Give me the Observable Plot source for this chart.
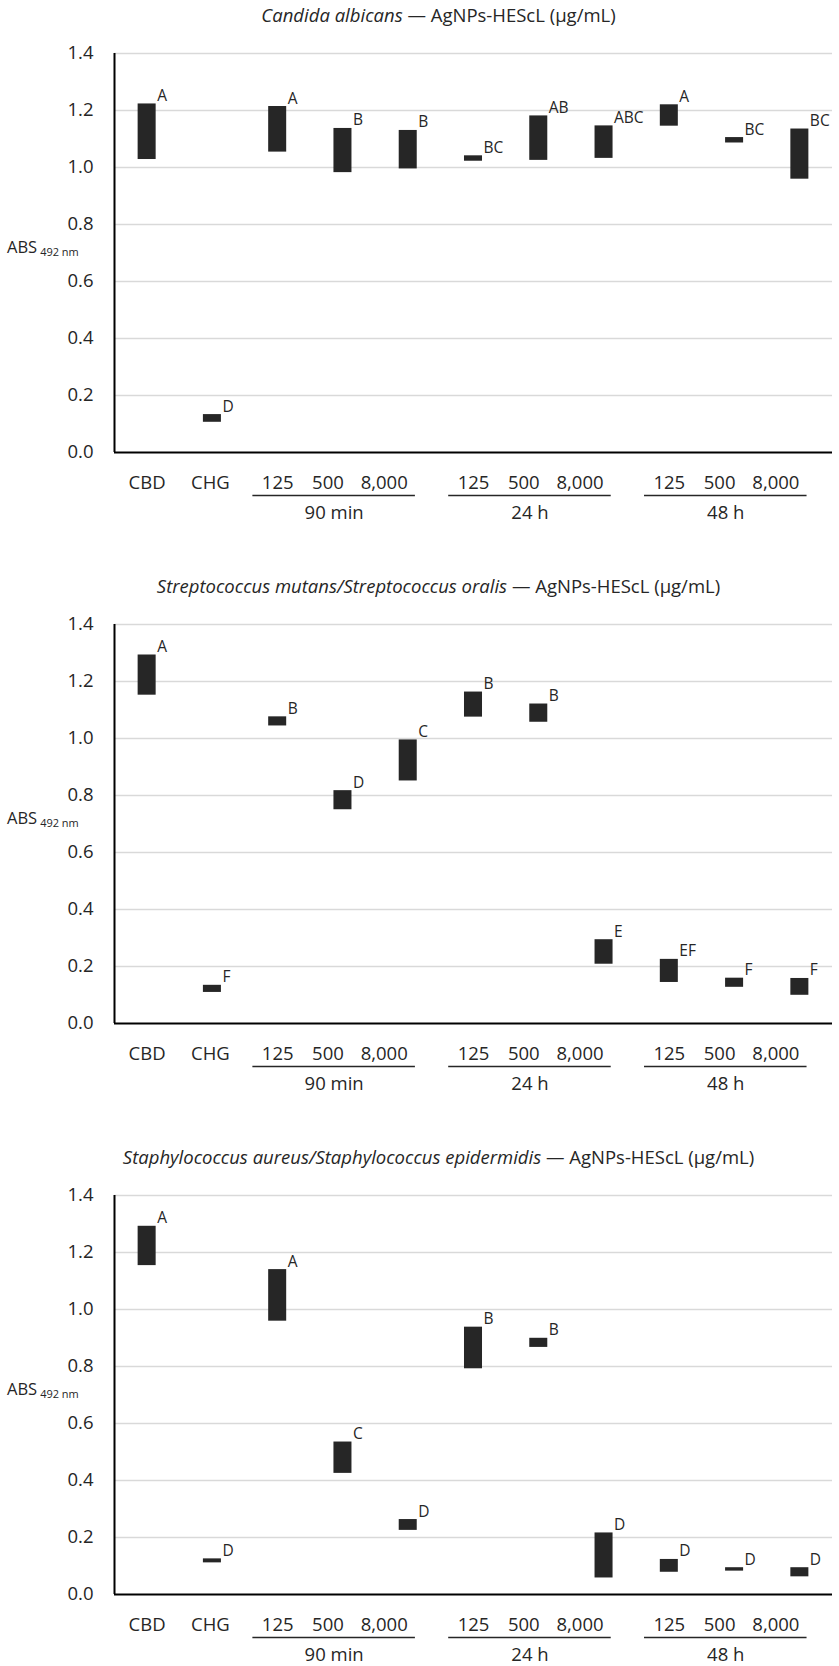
<!DOCTYPE html>
<html>
<head>
<meta charset="utf-8">
<script src="https://cdn.jsdelivr.net/npm/d3@7"></script>
<script src="https://cdn.jsdelivr.net/npm/@observablehq/plot@0.6"></script>
<style>
  body { margin: 0; background: #fff; font-family: "Open Sans", sans-serif; }
  .panel { width: 839px; height: 571px; position: relative; }
  .title { height: 30px; line-height: 30px; font-size: 18.5px; text-align: center;
           padding-left: 38px; color: #262626; white-space: nowrap; }
  .panel svg { display: block; overflow: visible; }
</style>
</head>
<body>
<div id="root"></div>
<script>
// ---- data ----
const categories = ["CBD", "CHG", "125", "500", "8,000", "125", "500", "8,000", "125", "500", "8,000"];
const times = ["", "", "90 min", "90 min", "90 min", "24 h", "24 h", "24 h", "48 h", "48 h", "48 h"];
const groups = ["90 min", "24 h", "48 h"];
const yTicks = [0, 0.2, 0.4, 0.6, 0.8, 1.0, 1.2, 1.4];

const organisms = [
  "Candida albicans",
  "Streptococcus mutans/Streptococcus oralis",
  "Staphylococcus aureus/Staphylococcus epidermidis"
];
const titleSuffix = " — AgNPs-HEScL (µg/mL)";

const candidaLow     = [1.028, 0.106, 1.054, 0.982, 0.995, 1.022, 1.025, 1.032, 1.145, 1.086, 0.959];
const candidaHigh    = [1.223, 0.133, 1.214, 1.137, 1.130, 1.041, 1.181, 1.146, 1.220, 1.105, 1.135];
const candidaLetters = ["A", "D", "A", "B", "B", "BC", "AB", "ABC", "A", "BC", "BC"];

const streptoLow     = [1.152, 0.109, 1.044, 0.750, 0.851, 1.075, 1.057, 0.208, 0.144, 0.127, 0.099];
const streptoHigh    = [1.293, 0.134, 1.076, 0.817, 0.995, 1.163, 1.121, 0.294, 0.225, 0.159, 0.158];
const streptoLetters = ["A", "F", "B", "D", "C", "B", "B", "E", "EF", "F", "F"];

const staphLow       = [1.154, 0.111, 0.959, 0.425, 0.225, 0.792, 0.867, 0.058, 0.078, 0.082, 0.062];
const staphHigh      = [1.292, 0.125, 1.140, 0.535, 0.263, 0.938, 0.899, 0.216, 0.123, 0.094, 0.094];
const staphLetters   = ["A", "D", "A", "C", "D", "B", "B", "D", "D", "D", "D"];

// ---- styles ----
const ink = "#262626";
const barHalf = 0.138;          // half bar width in category units
const labelShift = {"CBD": 0, "CHG": -2, "125": 0, "500": -15, "8,000": -24};

function panel(organism, low, high, letters) {
  const data = categories.map((c, i) => ({i, cat: c, time: times[i], lo: low[i], hi: high[i], letter: letters[i]}));
  const spans = groups.map(g => {
    const idx = data.filter(d => d.time === g).map(d => d.i);
    return {group: g, first: d3.min(idx), last: d3.max(idx)};
  });

  const div = document.createElement("div");
  div.className = "panel";
  const t = document.createElement("div");
  t.className = "title";
  const em = document.createElement("i");
  em.textContent = organism;
  t.appendChild(em);
  t.appendChild(document.createTextNode(titleSuffix));
  div.appendChild(t);

  const chart = Plot.plot({
    width: 839,
    height: 522,
    marginLeft: 114,
    marginRight: 7,
    marginTop: 23,
    marginBottom: 100,
    style: {fontFamily: "Open Sans, sans-serif", fontSize: "18.5px", color: ink, background: "#fff", overflow: "visible"},
    x: {domain: [-0.5, 10.5], axis: null},
    y: {domain: [0, 1.4], axis: null},
    marks: [
      Plot.gridY(yTicks.filter(v => v > 0), {stroke: "#d9d9d9", strokeOpacity: 1, strokeWidth: 1.3}),
      Plot.axisY(yTicks, {tickSize: 0, tickPadding: 21, tickFormat: d3.format(".1f"), fontSize: 18.5, fill: ink, label: null}),
      Plot.ruleX([-0.5], {y1: 0, y2: 1.4, stroke: "#000", strokeWidth: 2}),
      Plot.ruleY([0], {stroke: "#000", strokeWidth: 2}),
      Plot.rectY(data, {x1: d => d.i - barHalf, x2: d => d.i + barHalf, y1: "lo", y2: "hi", fill: ink}),
      Plot.text(data, {x: d => d.i + barHalf, y: "hi", text: "letter", textAnchor: "start", lineAnchor: "bottom",
                       dx: 1, dy: -3, fontSize: 15.5, fill: ink}),
      ...Object.entries(labelShift).map(([lab, dx]) =>
        Plot.text(data.filter(d => d.cat === lab), {x: "i", text: "cat", frameAnchor: "bottom", lineAnchor: "bottom",
                                                     dy: 36, dx, fontSize: 18.5, fill: ink})),
      Plot.ruleY(spans, {y: () => 0, x1: d => d.first - 0.38, x2: d => d.last + 0.11, dy: 43, stroke: ink, strokeWidth: 1.3}),
      Plot.text(spans, {x: d => (d.first - 0.38 + d.last + 0.11) / 2, text: "group", frameAnchor: "bottom",
                        lineAnchor: "bottom", dy: 66, fontSize: 18.5, fill: ink})
    ]
  });

  // y-axis title with subscript
  const svg = d3.select(chart);
  const ty = chart.scale("y").apply(0.7);
  const txt = svg.append("text").attr("x", 7).attr("y", ty).attr("text-anchor", "start")
    .attr("font-size", 16.5).attr("fill", ink).attr("font-family", "Open Sans, sans-serif");
  txt.append("tspan").text("ABS");
  txt.append("tspan").attr("font-size", 11).attr("dy", 3).attr("dx", 3).text("492 nm");

  div.appendChild(chart);
  return div;
}

const root = document.getElementById("root");
root.appendChild(panel(organisms[0], candidaLow, candidaHigh, candidaLetters));
root.appendChild(panel(organisms[1], streptoLow, streptoHigh, streptoLetters));
root.appendChild(panel(organisms[2], staphLow, staphHigh, staphLetters));
</script>
</body>
</html>
